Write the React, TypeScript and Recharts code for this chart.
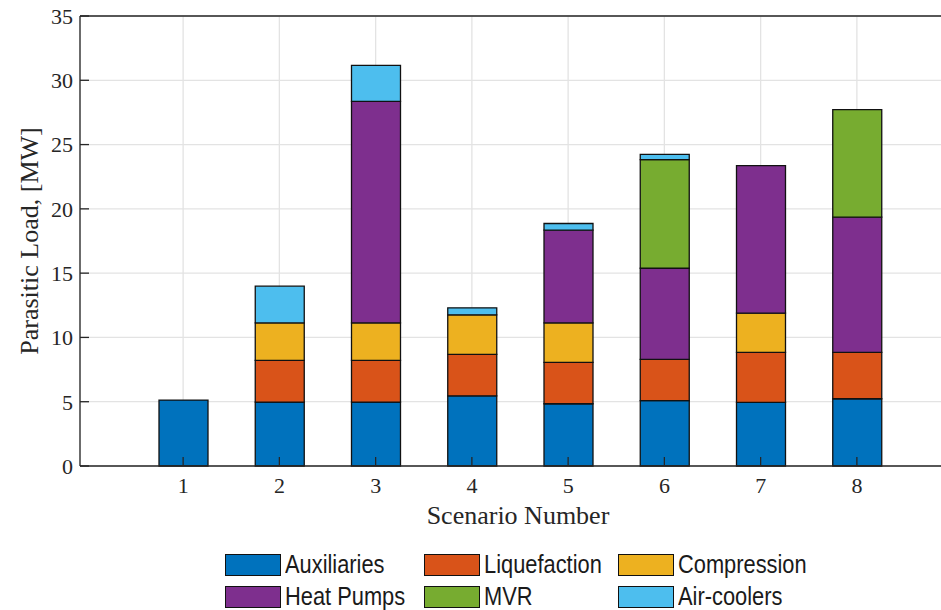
import React from 'react';
import { BarChart, Bar, XAxis, YAxis, CartesianGrid, Legend } from 'recharts';

const scenarios = ['1', '2', '3', '4', '5', '6', '7', '8'];
const auxiliaries = [5.13, 4.97, 4.97, 5.46, 4.84, 5.08, 4.95, 5.23];
const liquefaction = [0, 3.24, 3.24, 3.22, 3.22, 3.21, 3.88, 3.6];
const compression = [0, 2.92, 2.92, 3.08, 3.07, 0, 3.06, 0];
const heatPumps = [0, 0, 17.23, 0, 7.21, 7.09, 11.47, 10.52];
const mvr = [0, 0, 0, 0, 0, 8.45, 0, 8.37];
const airCoolers = [0, 2.86, 2.8, 0.54, 0.52, 0.41, 0, 0];
const yTicks = [0, 5, 10, 15, 20, 25, 30, 35];

const series = [
  { key: 'aux', name: 'Auxiliaries', color: '#0072BD', values: auxiliaries },
  { key: 'liq', name: 'Liquefaction', color: '#D95319', values: liquefaction },
  { key: 'comp', name: 'Compression', color: '#EDB120', values: compression },
  { key: 'hp', name: 'Heat Pumps', color: '#7E2F8E', values: heatPumps },
  { key: 'mvr', name: 'MVR', color: '#77AC30', values: mvr },
  { key: 'air', name: 'Air-coolers', color: '#4DBEEE', values: airCoolers },
];

const data = scenarios.map((s, i) => {
  const row: Record<string, string | number> = { scenario: s };
  series.forEach((se) => {
    row[se.key] = se.values[i];
  });
  return row;
});

const TEXT = '#262626';
const SERIF = "'Liberation Serif', 'DejaVu Serif', serif";
const SANS = "'Liberation Sans', Arial, sans-serif";

const colLeft = [225, 424, 618];
const rowTop = [7, 39];

const renderLegend = () => {
  return (
    <div style={{ position: 'relative', width: 941, height: 64, overflow: 'visible' }}>
      {series.map((p, i) => (
        <div
          key={p.key}
          style={{
            position: 'absolute',
            left: colLeft[i % 3],
            top: rowTop[Math.floor(i / 3)],
            display: 'flex',
            alignItems: 'center',
            height: 23,
            whiteSpace: 'nowrap',
          }}
        >
          <div
            style={{
              width: 54,
              height: 20,
              background: p.color,
              border: '1.5px solid #111',
              boxSizing: 'content-box',
              flex: 'none',
            }}
          />
          <span
            style={{
              display: 'inline-block',
              marginLeft: 4,
              fontFamily: SANS,
              fontSize: 26,
              color: '#1a1a1a',
              lineHeight: '23px',
              transform: 'scaleX(0.84)',
              transformOrigin: 'left center',
            }}
          >
            {p.name}
          </span>
        </div>
      ))}
    </div>
  );
};

const YLabel = (props: any) => {
  const vb = props.viewBox;
  const cx = vb.x + 38;
  const cy = 16 + 450 / 2;
  return (
    <text
      x={cx}
      y={cy}
      textAnchor="middle"
      transform={`rotate(-90, ${cx}, ${cy})`}
      fontFamily={SERIF}
      fontSize={26}
      fill={TEXT}
    >
      Parasitic Load, [MW]
    </text>
  );
};

const XLabel = (props: any) => {
  const vb = props.viewBox;
  return (
    <text
      x={vb.x + vb.width / 2}
      y={vb.y + 58}
      textAnchor="middle"
      fontFamily={SERIF}
      fontSize={26}
      fill={TEXT}
    >
      Scenario Number
    </text>
  );
};

export default function App() {
  return (
    <div
      style={{
        position: 'absolute',
        left: 0,
        top: 0,
        width: 941,
        height: 610,
        overflow: 'hidden',
        background: '#fff',
      }}
    >
      <BarChart
        width={960}
        height={610}
        data={data}
        margin={{ top: 15, right: 4, left: 0, bottom: 0 }}
        barCategoryGap={0}
      >
        <CartesianGrid stroke="#e3e3e3" strokeWidth={1.3} />
        <XAxis
          dataKey="scenario"
          height={80}
          padding={{ left: 55, right: 51 }}
          tickSize={-9}
          tickMargin={20}
          tick={{ fontFamily: SERIF, fontSize: 22, fill: TEXT }}
          axisLine={{ stroke: TEXT, strokeWidth: 1.3 }}
          tickLine={{ stroke: TEXT, strokeWidth: 1.3 }}
          label={<XLabel />}
        />
        <XAxis
          xAxisId="top"
          orientation="top"
          dataKey="scenario"
          height={1}
          padding={{ left: 55, right: 51 }}
          tickSize={-9}
          tick={false}
          axisLine={{ stroke: TEXT, strokeWidth: 1.3 }}
          tickLine={{ stroke: TEXT, strokeWidth: 1.3 }}
        />
        <YAxis
          width={80}
          domain={[0, 35]}
          ticks={yTicks}
          interval={0}
          tickSize={-9}
          tickMargin={16}
          tick={{ fontFamily: SERIF, fontSize: 22, fill: TEXT }}
          axisLine={{ stroke: TEXT, strokeWidth: 1.3 }}
          tickLine={{ stroke: TEXT, strokeWidth: 1.3 }}
          label={<YLabel />}
        />
        <Legend verticalAlign="bottom" height={64} content={renderLegend} />
        {series.map((se) => (
          <Bar
            key={se.key}
            dataKey={se.key}
            name={se.name}
            stackId="a"
            fill={se.color}
            stroke="#111"
            strokeWidth={1.3}
            barSize={49}
            isAnimationActive={false}
          />
        ))}
      </BarChart>
    </div>
  );
}
